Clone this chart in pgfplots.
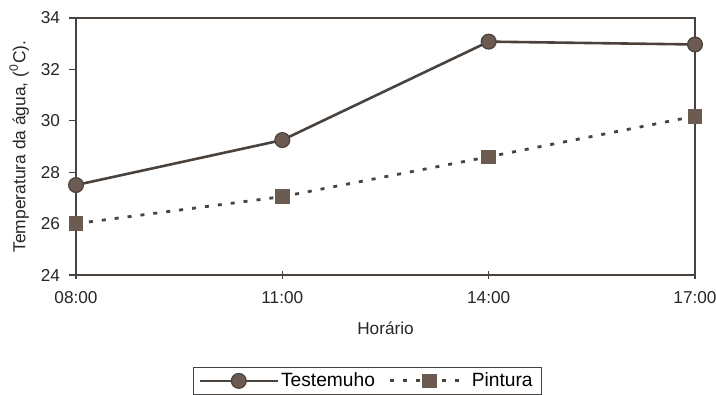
\documentclass[border=0pt]{standalone}
\usepackage{pgfplots}
\pgfplotsset{compat=1.18}
\usepackage{fontspec}
\setmainfont{Liberation Sans}
\definecolor{ln}{HTML}{4A423D}
\definecolor{mk}{HTML}{6B5B51}
\begin{document}
\begin{tikzpicture}
\useasboundingbox (-38pt,-60pt) rectangle (320pt,137.5pt);
\begin{axis}[
  at={(0,0)}, anchor=south west,
  scale only axis,
  width=309.5pt, height=128.5pt,
  xmin=0, xmax=3, ymin=24, ymax=34,
  xtick={0,1,2,3}, xticklabels={08:00,11:00,14:00,17:00},
  ytick={24,26,...,34},
  axis line style={ln, line width=0.9pt},
  every tick/.style={ln, line width=0.6pt},
  major tick length=3.5pt,
  xtick align=center, ytick align=outside,
  xtick pos=bottom, ytick pos=left,
  font=\fontsize{8.6}{10}\selectfont,
  /pgf/number format/assume math mode=true,
  ticklabel style={text=black!85},
  xticklabel style={yshift=-3pt},
  yticklabel style={xshift=-1pt},
  xlabel={Horário},
  ylabel={Temperatura da água, (\textsuperscript{0}C).},
  xlabel style={yshift=-2pt, text=black!85},
  ylabel style={yshift=-1pt, text=black!85, font=\fontsize{8.7}{10}\selectfont},
  legend columns=2,
  legend style={at={(axis description cs:0.471,-0.412)}, anchor=center,
    draw=ln, line width=0.5pt, font=\fontsize{9.6}{11}\selectfont,
    inner xsep=2.5pt, inner ysep=0.5pt,
    /tikz/every odd column/.append style={column sep=-1pt},
    /tikz/every even column/.append style={column sep=5pt}},
  legend image code/.code={\draw[#1, mark repeat=2, mark phase=2] plot coordinates {(0pt,0pt)(19.5pt,0pt)(39pt,0pt)};},
]
\addplot[ln, line width=1.3pt, mark=*, mark size=3.7pt, mark options={fill=mk, draw=ln, line width=0.6pt}]
  coordinates {(0,27.5) (1,29.25) (2,33.08) (3,32.97)};
\addlegendentry{Testemuho}
\addplot[ln, line width=1.4pt, dash pattern=on 2pt off 4.5pt, mark=square*, mark size=3.4pt, mark options={fill=mk, draw=mk, solid, line width=0.4pt}]
  coordinates {(0,26.0) (1,27.05) (2,28.6) (3,30.18)};
\addlegendentry{Pintura}
\end{axis}
\end{tikzpicture}
\end{document}
